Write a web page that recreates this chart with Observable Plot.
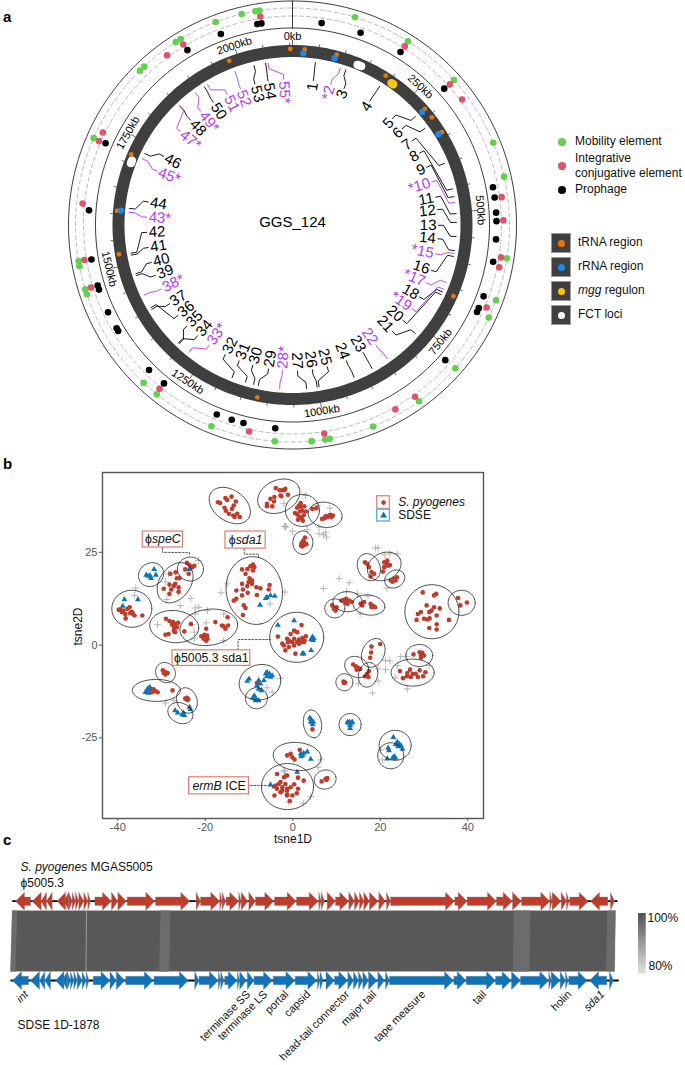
<!DOCTYPE html>
<html><head><meta charset="utf-8">
<script src="https://cdn.jsdelivr.net/npm/d3@7"></script>
<script src="https://cdn.jsdelivr.net/npm/@observablehq/plot@0.6"></script>
<style>
html,body{margin:0;padding:0;background:#fff;font-family:"Liberation Sans",Arial,sans-serif}
#root{position:relative;width:685px;height:1065px;overflow:hidden}
#root svg{position:absolute;left:0;background:none;max-width:none}
.t{position:absolute;font-size:12px;line-height:15px;color:#111;white-space:nowrap}
.d{position:absolute;width:8px;height:8px;border-radius:50%}
.b{position:absolute;left:551px;width:20px;height:20px;background:#404040;border:1px solid #999;box-sizing:border-box}
.b span{position:absolute;left:6px;top:6px;width:7px;height:7px;border-radius:50%}
.p{position:absolute;left:3px;font-size:15px;font-weight:bold}
</style></head><body><div id="root"></div>
<script>
// ---------- panel a : genome positions in kb ----------
const genomeTitle = "GGS_124";
const kbTicks = [0,250,500,750,1000,1250,1500,1750,2000];
const mobilityKb = [2054,2048,2026,1984,1924,1915,1853,1844,1717,1523,1515,1478,1470,1306,1279,1181,1080,1023,1002,995,925,844,768,674,645,578,451,396,281,188,98];
const iceKb = [2054,1923,1892,1731,1716,1613,1523,1478,1281,1122,1002,882,845,661,594,578,519,482,313,282,188];
const prophageKb = [2047,2054,1985,1924,1717,1603,1522,1478,1471,1431,1401,1396,1314,1281,1180,1154,1134,1081,769,674,667,646,587,550,520,506,481,464,281,187,114,48];
const trnaKb = [2101,1982,1717,1606,1523,1120,666,23,85,187,285,306,340];
const rrnaKb = [21,83,286,340,1607];
const mggKb = [204,208];
const fctKb = [129,133,137,1701,1704,1707];
const labelGeneKb = [47,99,111,188,284,315,397,452,468,480,503,521,550,579,585,591,646,667,661,673,769,846,883,924,998,1002,1024,1079,1123,1133,1150,1179,1281,1310,1308,1402,1398,1431,1474,1478,1517,1521,1605,1613,1718,1730,1852,1851,1893,1915,1923,1985,2026,2050,2055];
const labelTextKb = [48,89,121,187,253,285,321,354,390,426,462,491,527,558,593,632,663,699,731,765,800,849,883,926,972,1007,1041,1076,1108,1145,1178,1213,1256,1290,1323,1355,1388,1427,1461,1492,1527,1562,1597,1632,1706,1743,1812,1847,1878,1913,1950,1983,2018,2049,2085];
const purpleLabels = [2,10,15,17,19,22,28,33,38,43,45,47,49,51,52,55];
const starredLabels = [2,10,15,17,19,28,33,38,43,45,47,49,55];

// ---------- panel b : t-SNE ----------
const redXY = [[-17.1,38.5],[-16.6,38.3],[-15.4,39.6],[-15,39.1],[-14,40],[-13,38.7],[-13.5,37.6],[-13.9,36.7],[-15.6,37],[-15.3,36.2],[-14.6,35.4],[-13.6,34.9],[-12.7,35.4],[-12.1,34.5],[-13.3,34.5],
[-5.9,38.1],[-5.1,39.4],[-4.3,38.7],[-4.7,37.4],[-3.9,42.3],[-3,41.7],[-2,41.7],[-2.8,40.3],[-4.2,39.9],[-5.9,37.4],[-2.4,41.7],[-1.7,42.1],[-1.1,40.5],[-2.6,40.1],
[1.8,38.3],[1.4,37.6],[1,37],[1.9,37.2],[0.5,35.6],[1,35.2],[1.6,36],[2.2,36.2],[1.5,34.6],[2,34.2],[2.5,35],[1.2,33.8],[2.3,33.5],[3,36],[2.6,37.4],
[4.5,36.7],[5.4,36.9],[6.7,34],[7.3,34.2],[7.5,34.7],[8.3,34.9],[8.6,35.1],[9.2,34.9],[7.9,34.5],[8.8,34.5],
[2.4,28.2],[2,27.5],[2.6,27],[3.1,27.2],[2.2,26.6],[2.8,29],[1.9,26.8],[2.5,27.8],
[-24.2,22.2],[-23.6,21.6],[-23,21],[-24.6,20.4],[-23.8,19.2],[-22.5,21.4],
[-29.5,15.2],[-28.2,16.3],[-27.8,15],[-26.8,19.6],[-28,19.2],[-26.5,18],[-25.9,18],[-26.9,16.5],[-26.1,15.6],[-28.2,13.8],[-26.1,14.4],[-27.2,15.9],
[-39.5,9.6],[-39.1,8.9],[-38.7,9.3],[-38.3,8.4],[-37.8,9.8],[-37.3,10.2],[-37.2,8.6],[-36.5,8.4],[-36.2,8],[-36.8,9],[-38.2,7.2],[-34.4,8],[-39.8,9.5],
[-29,7.1],[-28.2,6.5],[-27.4,6.2],[-26.9,5.7],[-26.2,6],[-27.6,5.5],[-27.1,4.8],[-26.5,4.8],[-27.2,3.9],[-26.9,3.5],[-28.4,3],[-29.1,2.8],[-24.8,3.7],
[-23.3,5.7],[-20.2,2.8],[-19.6,2.6],[-20,2.1],[-19.5,1.7],[-20.4,1.7],[-20.9,2.4],[-19.8,1.2],[-17.7,6.2],[-19.8,4.4],[-16.2,5.3],[-15.4,4.4],[-15.8,5.1],[-14.9,7.5],[-14.8,5.3],
[-9.1,21.7],[-9.7,21.2],[-8.8,21],[-10.4,20.5],[-11.6,20.4],[-9.1,20.1],[-10.8,19.2],[-9.9,18],[-9.3,17.4],[-10.1,17],[-9.3,16.5],[-10.4,15.9],[-11.6,16.5],[-12.9,14.7],[-11.4,15],[-8.3,15.6],[-7.4,15.3],[-5.3,16.2],[-5.5,15],[-10.3,14.1],[-11.6,13.4],[-8.2,13.5],[-13.5,12],[-12.9,12.5],[-11.2,10.7],[-10.8,10],[-11.4,8.1],
[-3.4,2.3],[2,5.4],[0.3,3.9],[-0.5,3],[1,3.5],[-0.9,1.2],[0.3,1.7],[1.4,1.5],[2.2,1.9],[3,2.4],[1,0.8],[1.8,0.8],[2.7,1.2],[-0.1,0.8],[-1.3,1.7],[-1.7,-1.4],[0.6,-2.3],[-2.4,0.4],[-0.9,-0.5],[0.3,-0.1],[1.4,0.4],[2.5,0.8],[-2,-0.1],[-1.1,0.8],
[16.5,22.3],[17,21.9],[17.4,21],[18,19.7],[18.6,19.2],[17.8,18.5],[20.9,22.3],[21.5,21.9],[22.2,21.6],[20.9,21],[21.6,22.8],[20.6,19.8],[21.8,21.4],
[22.4,17.4],[23.2,17.9],[23.8,18.3],[22.8,17.1],[23.5,17.4],[9,10.7],[9.4,9.8],[9.8,9.3],[10,10.2],
[11.1,12],[11.7,12.2],[12.2,12.5],[12.9,12],[13.4,11.7],[12.1,11.4],[12.5,11.1],[15.5,11.1],[16.3,11.6],[17.8,11.1],[18.4,10.5],[18.8,10.2],[18,10.2],[15.9,10.7],
[29.7,14.2],[32.3,13.4],[32.8,13.8],[30.6,10.7],[31.2,8.9],[29.3,8.9],[28.6,8.4],[32.3,10.2],[33.6,9.9],[31.7,9.3],[32.9,8],[30,7.1],[30.8,6.9],[31.3,7.2],[28.3,6.8],[35.7,6.8],[32.9,5.6],[31.2,4.6],[32.9,4.2],[37.8,12.7],[39.8,11.5],[38.3,10.7],
[-29.7,-6.8],[-29.1,-7.3],[-28.6,-7.5],[-29.1,-7.9],[-29.5,-7.5],[-32.4,-11.8],[-31.8,-11.9],[-31.4,-12.4],[-30.9,-12.7],[-32.2,-12.7],[-27.5,-12.2],
[-24.3,-14.5],[-23.9,-14.6],[-24.6,-14.4],[-24.1,-14.8],[-24.2,-14.2],[-8.2,-10.2],
[-1.3,-29.7],[-0.5,-29.3],[-0.1,-30.2],[0.4,-30.8],[1.6,-28.2],
[1.2,-35.7],[-1.5,-35.1],[2.5,-36.5],[0.3,-37.5],[-0.5,-38.3],[-1.7,-37.4],[-2.4,-38.3],[-1.3,-38.7],[1.2,-38.7],[-0.1,-40.5],[0.9,-39.9],[-1.3,-40.3],[-2.4,-39.2],[-0.7,-42],[-3.6,-34.7],[-1.3,-35.1],[-2,-35.6],[-3.9,-37.8],[-3.2,-37.4],[-3.6,-38.7],[-4.3,-38.1],[-2.8,-39.6],[-1.3,-39.2],[-1.3,-40.5],[-4.2,-40.5],[-2.8,-36.9],
[6.6,-36.7],[7.5,-36],[7.9,-35.8],[7.7,-36.3],[20,0.3],[18,-0.4],[17.9,-2],[17.7,-3.4],
[13.8,-5.2],[14.4,-5.7],[14.9,-6.1],[15.4,-6.4],[14.6,-6.6],[17.4,-7],[17,-7.7],[16.5,-8.4],[17.3,-8.6],[11.6,-9.8],[12,-10.1],[11.7,-10.2],
[27.6,-2.5],[29,-1.9],[29.6,-2.1],[29.3,-2.8],[30,-2.8],[29.3,-3.4],[24.5,-7],[25.2,-8.9],[26.1,-8.4],[26.8,-6.6],[26.2,-7.5],[27.4,-7.7],[28.1,-7.7],[28.6,-8.6],[29,-6.8],[30.3,-7.3],[29.8,-8.4],[27,-8.6],[4.5,-22.7]];
const blueXY = [[-33.5,18.9],[-33,18.6],[-32.4,18],[-31.7,20.4],[-31.3,18.9],[-32.6,18.7],[-38.5,12.3],[-35.4,12.3],[-38.9,10.5],[-23.7,20.4],[-7.5,10.8],[-5.9,12.9],[-5.1,13.4],[-4.1,13.2],[-6.2,12.6],
[0.3,6.6],[4.5,2.2],[4.6,1.3],[4.8,1.8],[4.2,1.6],[2.5,-2.3],[2.2,-2.3],[4.2,-1.4],[-3.4,5.4],
[-33.3,-12.2],[-32.7,-11.3],[-33.7,-12.7],[-33,-12.9],[-33.2,-11.8],[-23.6,-16.7],[-23.4,-17.3],[-26.9,-17.6],[-26.3,-18.2],[-25.3,-18.7],[-24.8,-18.9],[-25,-18.3],
[-10,-9.1],[-10.4,-9.7],[-7.8,-9.5],[-8.2,-10.9],[-7.4,-10.4],[-6.2,-7.7],[-5.9,-7.3],[-5.3,-7.7],[-5.1,-8.6],[-5.9,-8.4],[-4.7,-8.2],[-6.6,-9.5],[-7.8,-11.8],[-7.2,-12.2],
[-8.8,-13.6],[-8.4,-14.5],[-7.8,-14.9],[-8.5,-14.9],[-9.1,-14.2],
[1.8,-29.3],[2.2,-29.7],[2.5,-29.1],[3.3,-28.7],[4.1,-30.7],[1.9,-30],[1,-34.2],[-5.1,-37.6],
[3.9,-19.6],[4.2,-20.1],[4.7,-20.7],[4.1,-20.7],[4.5,-21.4],[13,-20.7],[12.5,-20.7],[13.6,-20.7],[13.1,-21.6],[13.1,-22.4],[12.7,-21],[13.4,-21],
[23,-24.8],[23.9,-26.1],[24.3,-26.6],[24.7,-27],[25.1,-28],[23.5,-26.8],[24.1,-27.3],[21.8,-27.7],[22,-28.4],[23.2,-30],[22.8,-30.4],[23.5,-30.4],[21.6,-30.6]];
const grayXY = [[-35.9,15.4],[-36.2,13.4],[-29.1,17],[-28.4,19.2],[-28.8,12.3],[-26.1,14.1],[-23.3,12.6],[-25.7,10.7],[-22.3,10],[-21.5,10.2],[-22.3,8.4],[-19.8,6],[-19.5,9.3],[-30.9,5.5],[-23,5.5],[-22.5,3.5],[-22.5,1.7],[-15.8,8.4],[-15.8,1.2],[-16.4,14.1],[-15,16.5],[-5.2,11.1],[-21.5,22.8],[-2,38.1],[-1.9,32],[-1.5,31.8],
[2.9,40.3],[5.6,37.6],[8.5,36.9],[-1.7,32],[-0.1,30.7],[3.3,31.1],[6,31.8],[6,30],[7,29.7],[7.5,30.4],[7.7,29.1],[18.9,26.2],[19.5,26.2],[20.9,24.3],[22.2,24.6],[23.9,24.6],[10.6,17.9],[12.9,16.8],[7,15.3],[12.3,14.4],[14.8,13.8],[17.2,13.2],[15.4,8.4],[21.5,15.4],[-1.8,14.3],
[-29.1,-15.6],[-27.2,-14.9],[-5.9,-11.5],[-4.7,-12.7],[-1.9,-33.9],[-0.9,-42.3],[-2.8,-9],[6.4,-30.9],[5.8,-32.9],[-2,-33.9],[4.1,-40.8],[2.5,-42.6],[18.2,-12.9],[15,-10.4],[19.5,-9.7],[19.5,-6.4],[21.2,-6.6],[21.2,-4.1],[22.2,-4.3],[24.7,-3.1],[26.1,-3.1],[23.9,-5.5],[23.4,-8.8],[31.2,-5.5],[26.2,-11.8],[20.1,-28.2],[20.5,-30.9]];
// cluster hulls: centre x, centre y, semi-axes, tilt
const clusters = [[-14.4,37.6,22.7,15.5,35],[-3.2,40.1,22,16,-25],[2.2,36.3,17,16,0],[7.4,35.1,17,12.5,10],[2.3,27.6,11.7,10,90],[-26.9,16.8,22,15.5,-55],[-23.4,20.5,13,12,0],[-32.4,19,13,11.5,-30],[-36.8,9.8,20,18.5,0],[-8.8,14.7,34,28,80],[-27.1,5,24.5,16,5],[-19.2,4.8,29,18,-8],[0.9,2.1,27,25,0],[17.4,21,14,11,65],[20.9,21.2,17.5,13.5,-25],[23.3,17.8,10.5,8.5,-30],[9.6,9.9,10,9.5,0],[12.5,11.7,14.5,10,0],[17.4,10.8,16,10,8],[31.8,9,27,27,0],[38.6,11.4,13.5,12.5,0],[-29.1,-7.4,10.5,9.5,50],[-31.2,-12.2,24,11,0],[-24.2,-14.9,13,10,70],[-25.7,-18.3,13,10,25],[-7.5,-10,21,17.5,-15],[-8.3,-14.3,11,10.5,0],[18.4,-2.1,15,11,-65],[14.6,-5.9,12.5,10,30],[17.2,-8,12.5,9.5,-75],[11.8,-10,8.5,8.5,0],[28.9,-2.8,13.5,11,0],[27.4,-7.4,21.5,13.5,0],[4.5,-21.2,14,9,80],[13.1,-21.4,11,11,0],[23.4,-27,16,15,0],[22.4,-29.8,13,13,0],[1,-30,24,14,5],[7.4,-36.2,11,9.5,-15],[-1.2,-38.1,26,23,0]];
const calloutBoxes = [["ϕ~speC~",-34.3,-25.1,30.6,26.3],["ϕ~sda1~",-15.4,-6.2,30.6,26],["ϕ5005.3 sda1",-27.5,-9.7,-1.4,-5.6],["~ermB~ ICE",-23.7,-10,-35.6,-40.2]];
const calloutLeaders = [[[-29.8,26.3],[-29.8,25],[-23.6,24.9],[-23.6,24.1]],[[-11.1,26],[-11.1,24.5],[-7.8,24.5],[-7.8,23.7]],[[-12.5,-1.4],[-12.5,1.5],[-5.1,1.5]],[[-9.7,-37.8],[-5.9,-37.8]]];

// ---------- panel c : genes in kb [start, end, strand] ----------
const redGenes = [[0.5,2,-1],[2.17,3.07,-1],[3.07,3.6,-1],[3.6,4.17,-1],[4.67,5.5,-1],[5.33,5.83,-1],[5.83,6.17,1],[6.17,6.5,1],[6.5,6.83,1],[6.83,7.33,1],[7.33,7.73,1],[7.73,8,1],[8.43,10.1,1],[10.1,10.73,1],[10.73,11.6,1],[11.67,14.43,1],[14.5,17.93,1],[18.57,19,1],[19,20.93,1],[20.93,21.17,1],[21.17,21.5,1],[21.57,22.83,1],[22.83,23.07,1],[23.07,23.73,1],[23.83,24.5,1],[24.5,26.33,1],[26.4,28.57,1],[28.6,30.77,1],[30.83,31.07,1],[31.07,31.4,1],[31.67,32.5,1],[32.5,33.83,1],[33.83,34.4,1],[34.4,34.9,1],[34.9,35.33,1],[35.33,35.9,1],[35.9,36.77,1],[36.83,37.5,1],[37.6,38,1],[38,44.4,1],[44.43,45.67,1],[45.67,48.6,1],[48.6,50.17,1],[50.2,51.1,1],[51.1,53.93,1],[53.93,54.17,1],[54.17,55.07,1],[55.07,55.6,1],[55.6,55.87,1],[55.93,57.77,1],[58,59.73,-1],[60,60.4,1]];
const blueGenes = [[0.2,1.8,-1],[2,2.9,-1],[2.9,3.43,-1],[3.43,4,-1],[4.5,5.35,-1],[5.17,5.67,-1],[5.67,6,1],[6,6.33,1],[6.33,6.67,1],[6.67,7.17,1],[7.17,7.57,1],[7.57,7.85,1],[8.27,9.95,1],[9.95,10.58,1],[10.58,11.45,1],[11.52,14.28,1],[14.35,17.78,1],[18.42,18.85,1],[18.85,20.78,1],[20.78,21.02,1],[21.02,21.35,1],[21.42,22.68,1],[22.68,22.92,1],[22.92,23.58,1],[23.68,24.35,1],[24.35,26.2,1],[26.27,28.44,1],[28.47,30.64,1],[30.7,30.95,1],[30.95,31.28,1],[31.55,32.4,1],[32.4,33.73,1],[33.73,34.3,1],[34.3,34.8,1],[34.8,35.23,1],[35.23,35.8,1],[35.8,36.67,1],[36.73,37.4,1],[37.5,37.9,1],[37.9,44.3,1],[44.33,45.57,1],[45.57,48.5,1],[48.5,50.07,1],[50.1,51,1],[51,53.83,1],[53.83,54.07,1],[54.07,54.97,1],[54.97,55.5,1],[55.5,55.77,1],[55.83,57.67,1],[57.9,59.63,-1],[59.9,60.3,1]];
const geneLabels = [["~int~",1.6],["terminase SS",23.8],["terminase LS",25.5],["portal",27.6],["capsid",29.8],["head-tail connector",33.7],["major tail",36.4],["tape measure",41.3],["tail",47.4],["holin",55.9],["~sda1~",59.2]];
const identityStrips = [[0.17,0.67,0,0.5],[15,16,14.87,15.87],[50.33,52,50.23,51.9],[59.67,60.5,59.57,60.4]];
const identityPct = d3.range(80,100.01,1);

// ---------- helpers ----------
const deg = kb => kb*0.171;
const polar = (kb,r)=>{const a=deg(kb)*Math.PI/180;return {x:r*Math.sin(a),y:-r*Math.cos(a)}};
const at = (kb,r,extra={})=>({...polar(kb,r),kb,...extra});
const ring = r => d3.range(0,2106,5).map(k=>polar(k,r));
const FONT = '"Liberation Sans",Arial,sans-serif';
function italics(svg){
  svg.querySelectorAll("text").forEach(t=>{
    if(!t.textContent.includes("~"))return;
    const parts=t.textContent.split("~"); while(t.firstChild)t.removeChild(t.firstChild);
    parts.forEach((s,i)=>{ if(!s)return;
      const ts=document.createElementNS("http://www.w3.org/2000/svg","tspan");
      if(i%2)ts.setAttribute("font-style","italic"); ts.textContent=s; t.appendChild(ts);});
  });
  return svg;
}
const root = document.getElementById("root");
const place=(svg,top)=>{svg.style.top=top+"px";root.appendChild(italics(svg));};

// ---------- panel a ----------
const tickPts = d3.range(0,2105,50).map(k=>{const maj=k%250===0;const a=polar(k,180),b=polar(k,maj?185:182.5);return {x1:a.x,y1:a.y,x2:b.x,y2:b.y}});
const conn=[], labels=[];
labelGeneKb.forEach((g,i)=>{
  const n=i+1,t=labelTextKb[i],purple=purpleLabels.includes(n);
  [[g,164],[g,158],[t,151],[t,146]].forEach(([k,r])=>conn.push(at(k,r,{n,purple})));
  const th=deg(t),right=th<180;
  const star=starredLabels.includes(n);
  labels.push(at(t,144,{n,purple,right,rot:right?th-90:th+90,txt:star?(right?"*"+n:n+"*"):String(n)}));
});
const kbLab = kbTicks.map(k=>{const th=deg(k);let rot=th;if(th>90&&th<270)rot=th-180;return at(k,188.5,{rot,txt:k+"kb"})});
const PURPLE="#b43cf2";
const track=(arr,r,fill,rad,extra={})=>Plot.dot(arr.map(k=>polar(k,r)),{x:"x",y:"y",r:rad,fill,...extra});
const panelA = Plot.plot({width:685,height:455,margin:0,style:{fontFamily:FONT},
  x:{domain:[-292,393],range:[0,685],axis:null},y:{domain:[-224.5,230.5],range:[0,455],axis:null},
  marks:[
    Plot.line(ring(174),{x:"x",y:"y",stroke:"#3f3f3f",strokeWidth:12,strokeLinejoin:"round"}),
    Plot.link(tickPts,{x1:"x1",y1:"y1",x2:"x2",y2:"y2",stroke:"#222",strokeWidth:0.7}),
    ...[224,197].map(r=>Plot.line(ring(r),{x:"x",y:"y",stroke:"#222",strokeWidth:0.9})),
    ...[217,209].map(r=>Plot.line(ring(r),{x:"x",y:"y",stroke:"#aaa",strokeWidth:0.8,strokeDasharray:"4,3"})),
    Plot.link([{...polar(0,197),e:polar(0,224)}],{x1:"x",y1:"y",x2:d=>d.e.x,y2:d=>d.e.y,stroke:"#222",strokeWidth:0.9}),
    track(mobilityKb,217,"#61D04F",3.3),
    track(iceKb,211,"#DF536B",3.3),
    track(prophageKb,204,"#000",3.3),
    track(trnaKb,176,"#E8750C",2.4),
    track(rrnaKb,172,"#1E88E5",3.2),
    track(mggKb,173,"#F5C710",4.2),
    track(fctKb,173,"#fff",4),
    Plot.line(conn.filter(d=>!d.purple),{x:"x",y:"y",z:"n",stroke:"#000",strokeWidth:0.9}),
    Plot.line(conn.filter(d=>d.purple),{x:"x",y:"y",z:"n",stroke:PURPLE,strokeWidth:0.9}),
    ...[true,false].flatMap(right=>[false,true].map(purple=>
      Plot.text(labels.filter(d=>d.right===right&&d.purple===purple),{x:"x",y:"y",text:"txt",rotate:"rot",textAnchor:right?"end":"start",fontSize:15,fill:purple?PURPLE:"#000"}))),
    Plot.text(kbLab,{x:"x",y:"y",text:"txt",rotate:"rot",fontSize:11,fill:"#000"}),
    Plot.text([genomeTitle],{x:0,y:-3,text:d=>d,fontSize:15,fill:"#000"})
  ]});
place(panelA,0);

// ---------- panel b ----------
const sx=4.37, sy=3.71;
const hull = clusters.flatMap(([cx,cy,a,b,phi],i)=>{const p=phi*Math.PI/180;
  return d3.range(0,361,6).map(t=>{const q=t*Math.PI/180,dx=a*Math.cos(q)*Math.cos(p)-b*Math.sin(q)*Math.sin(p),dy=a*Math.cos(q)*Math.sin(p)+b*Math.sin(q)*Math.cos(p);
    return {i,x:cx+dx/sx,y:cy-dy/sy}});});
const leaderPts = calloutLeaders.flatMap((l,i)=>l.map(p=>({i,x:p[0],y:p[1]})));
const panelB = Plot.plot({width:685,height:385,marginLeft:102,marginRight:202,marginTop:7,marginBottom:32,style:{fontFamily:FONT},
  x:{domain:[-43.5,43.6],axis:null},y:{domain:[-46.7,46.5],axis:null},
  marks:[
    Plot.dot(grayXY,{x:d=>d[0],y:d=>d[1],symbol:"plus",r:2.4,stroke:"#b0b0b0",strokeWidth:0.9}),
    Plot.dot(redXY,{x:d=>d[0],y:d=>d[1],r:2.3,fill:"#BF3B2B"}),
    Plot.dot(blueXY,{x:d=>d[0],y:d=>d[1],symbol:"triangle",r:2.2,fill:"#0F73B9"}),
    Plot.line(hull,{x:"x",y:"y",z:"i",stroke:"#222",strokeWidth:0.8}),
    Plot.line(leaderPts,{x:"x",y:"y",z:"i",stroke:"#333",strokeWidth:0.8,strokeDasharray:"2,1.5"}),
    Plot.rect(calloutBoxes,{x1:d=>d[1],x2:d=>d[2],y1:d=>d[3],y2:d=>d[4],fill:"#fff",stroke:"#DF7F72",strokeWidth:1.2}),
    Plot.text(calloutBoxes,{x:d=>(d[1]+d[2])/2,y:d=>(d[3]+d[4])/2,text:d=>d[0],fontSize:12.3,fill:"#111"}),
    Plot.rect([[19.3,22.2,40.1,36.7]],{x1:d=>d[0],x2:d=>d[1],y1:d=>d[2],y2:d=>d[3],stroke:"#DF8F85",strokeWidth:1.4,fill:"#fff"}),
    Plot.rect([[19.3,22.2,36.5,33.3]],{x1:d=>d[0],x2:d=>d[1],y1:d=>d[2],y2:d=>d[3],stroke:"#6AAAD6",strokeWidth:1.4,fill:"#fff"}),
    Plot.dot([[20.75,38.4]],{x:d=>d[0],y:d=>d[1],r:2.4,fill:"#BF3B2B"}),
    Plot.dot([[20.75,34.9]],{x:d=>d[0],y:d=>d[1],symbol:"triangle",r:2.6,fill:"#0F73B9"}),
    Plot.text(["S. pyogenes"],{x:24.1,y:38.4,text:d=>d,textAnchor:"start",fontSize:12,fontStyle:"italic",fill:"#111"}),
    Plot.text(["SDSE"],{x:24.1,y:34.9,text:d=>d,textAnchor:"start",fontSize:12,fill:"#111"}),
    Plot.frame({stroke:"#555",strokeWidth:1.4}),
    Plot.axisX({ticks:[-40,-20,0,20,40],tickSize:3,tickPadding:2,tickFormat:d=>String(d),label:null,fontSize:11,color:"#555",stroke:"#555"}),
    Plot.axisY({ticks:[-25,0,25],tickSize:3,tickPadding:2,tickFormat:d=>String(d),label:null,fontSize:11,color:"#555",stroke:"#555"}),
    Plot.text(["tsne1D"],{frameAnchor:"bottom",dy:24,text:d=>d,fontSize:12,fill:"#111"}),
    Plot.text(["tsne2D"],{frameAnchor:"left",dx:-24,rotate:-90,text:d=>d,fontSize:12,fill:"#111"})
  ]});
place(panelB,465);

// ---------- panel c ----------
const HEAD=0.9,BODY=4.2,TIP=9;
const arrow=(g,i,yc)=>{const [s,e,dir]=g,[a,b]=dir>0?[s,e]:[e,s];const h=Math.min(HEAD,e-s)*dir,n=b-h;
  return (Math.abs(b-a)<=HEAD?[[a,yc-TIP],[b,yc],[a,yc+TIP],[a,yc-TIP]]:[[a,yc-BODY],[n,yc-BODY],[n,yc-TIP],[b,yc],[n,yc+TIP],[n,yc+BODY],[a,yc+BODY],[a,yc-BODY]]).map(p=>({i,x:p[0],y:p[1]}));};
const YR=50.7,YB=130;
const band=[[0.17,60],[60.5,60],[60.4,121],[0,121],[0.17,60]].map(p=>({x:p[0],y:p[1]}));
const strips=identityStrips.flatMap((s,i)=>[[s[0],60],[s[1],60],[s[3],121],[s[2],121],[s[0],60]].map(p=>({i,x:p[0],y:p[1]})));
const PCT2Y=p=>63+(100-p)/20*57;
const bar=d3.scaleLinear([80,100],["#dedede","#555555"]);
const panelC = Plot.plot({width:685,height:215,margin:0,style:{fontFamily:FONT},
  x:{domain:[-1,67.5],range:[0,685],axis:null},y:{domain:[0,215],range:[0,215],axis:null},
  marks:[
    Plot.line(band,{x:"x",y:"y",fill:"#585858",stroke:"#bbb",strokeWidth:0.6}),
    Plot.line(strips,{x:"x",y:"y",z:"i",fill:"#6c6c6c"}),
    Plot.link([[7.6,60,7.55,121]],{x1:d=>d[0],y1:d=>d[1],x2:d=>d[2],y2:d=>d[3],stroke:"#ccc",strokeWidth:0.6}),
    Plot.link([[0.17,60.7,YR],[0,60.83,YB]],{x1:d=>d[0],x2:d=>d[1],y1:d=>d[2],y2:d=>d[2],stroke:"#000",strokeWidth:1.8}),
    Plot.line(redGenes.flatMap((g,i)=>arrow(g,i,YR)),{x:"x",y:"y",z:"i",fill:"#BF3B2B",stroke:"#888",strokeWidth:0.35}),
    Plot.line(blueGenes.flatMap((g,i)=>arrow(g,i,YB)),{x:"x",y:"y",z:"i",fill:"#0F73B9",stroke:"#888",strokeWidth:0.35}),
    Plot.rect(identityPct,{x1:62.8,x2:63.57,y1:p=>PCT2Y(p),y2:p=>PCT2Y(p)+3.4,fill:p=>bar(p)}),
    Plot.text(["100%"],{x:63.7,y:68,text:d=>d,textAnchor:"start",fontSize:12,fill:"#111"}),
    Plot.text(["80%"],{x:63.8,y:116,text:d=>d,textAnchor:"start",fontSize:12,fill:"#111"}),
    Plot.text(["~S. pyogenes~ MGAS5005"],{x:1,y:17,text:d=>d,textAnchor:"start",fontSize:12,fill:"#111"}),
    Plot.text(["ϕ5005.3"],{x:1,y:33,text:d=>d,textAnchor:"start",fontSize:12,fill:"#111"}),
    Plot.text(["SDSE 1D-1878"],{x:0.7,y:175,text:d=>d,textAnchor:"start",fontSize:12,fill:"#111"}),
    Plot.text(geneLabels,{x:d=>d[1],y:142,text:d=>d[0],rotate:-45,textAnchor:"end",fontSize:11,fill:"#111"})
  ]});
place(panelC,850);

// ---------- legends and panel letters ----------
const legend=document.createElement("div");
legend.innerHTML=`
<div class="p" style="top:8px">a</div><div class="p" style="top:455px">b</div><div class="p" style="top:831px">c</div>
<div class="d" style="left:558px;top:138px;background:#61D04F"></div><div class="t" style="left:575px;top:134px">Mobility element</div>
<div class="d" style="left:558px;top:162px;background:#DF536B"></div><div class="t" style="left:575px;top:151px">Integrative<br>conjugative element</div>
<div class="d" style="left:558px;top:186px;background:#000"></div><div class="t" style="left:575px;top:182px">Prophage</div>
<div class="b" style="top:233px"><span style="background:#E8750C"></span></div><div class="t" style="left:578px;top:235px">tRNA region</div>
<div class="b" style="top:257px"><span style="background:#1E88E5"></span></div><div class="t" style="left:578px;top:259px">rRNA region</div>
<div class="b" style="top:281px"><span style="background:#F5C710"></span></div><div class="t" style="left:578px;top:283px"><i>mgg</i> regulon</div>
<div class="b" style="top:305px"><span style="background:#fff"></span></div><div class="t" style="left:578px;top:307px">FCT loci</div>`;
root.appendChild(legend);
</script></body></html>
